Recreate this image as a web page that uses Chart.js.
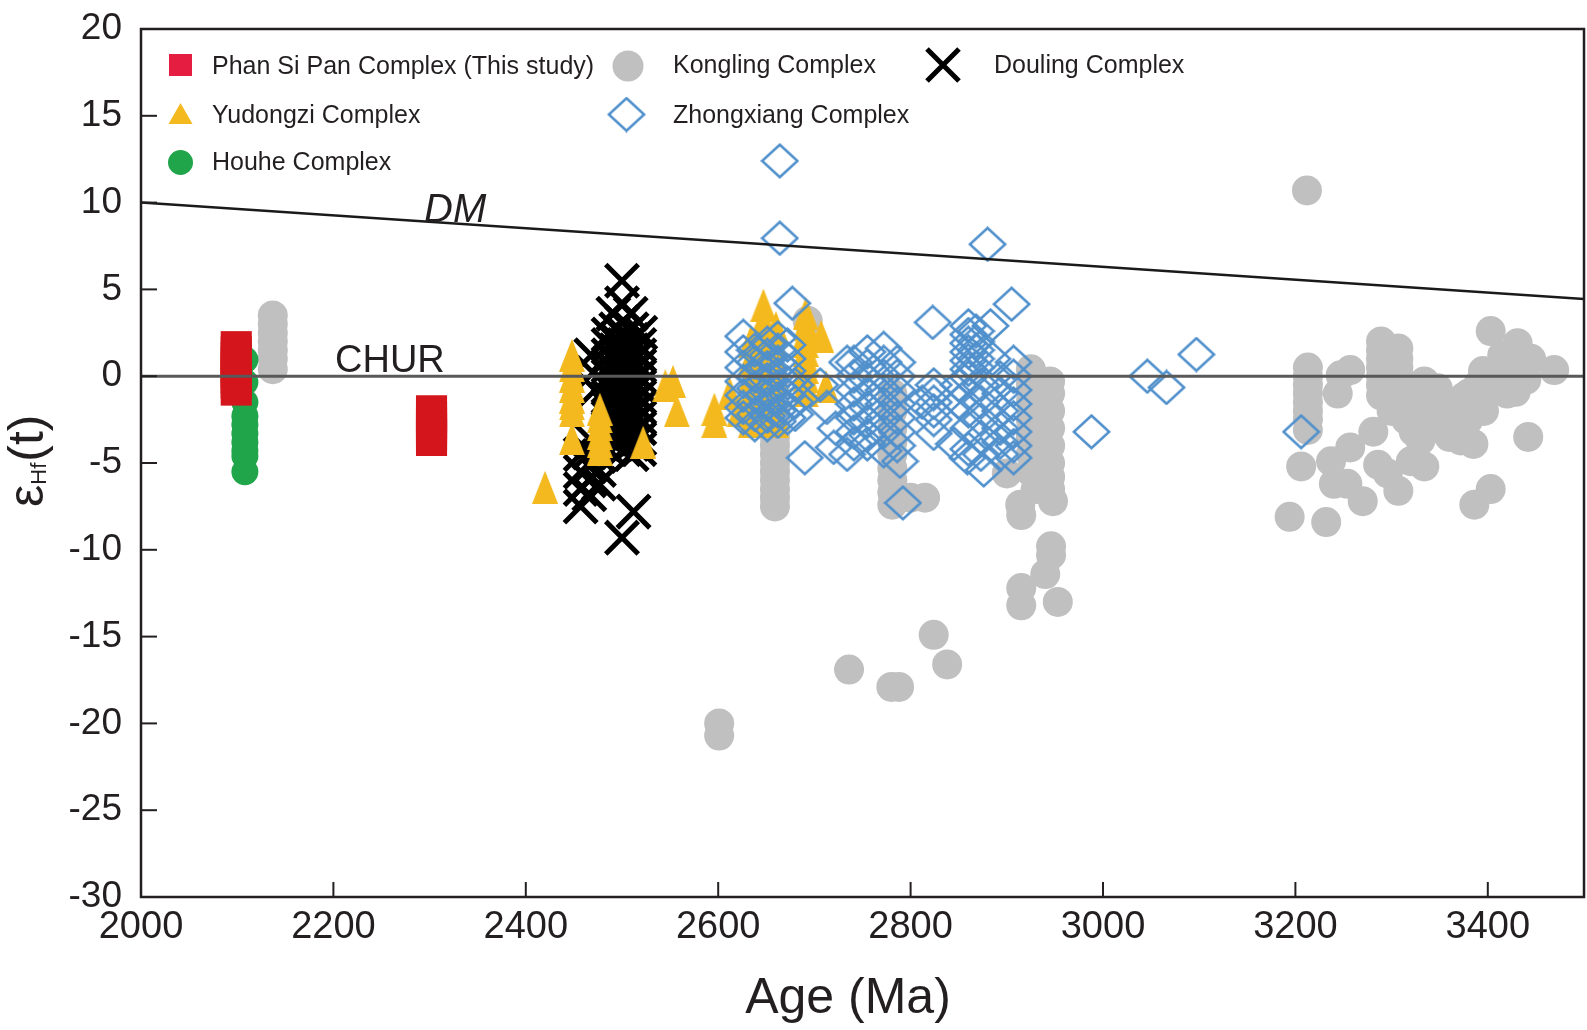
<!DOCTYPE html>
<html>
<head>
<meta charset="utf-8">
<script src="https://cdn.jsdelivr.net/npm/chart.js@4.4.1/dist/chart.umd.min.js"></script>
<style>
html,body{margin:0;padding:0;background:#fff;}
#wrap{width:1587px;height:1030px;position:relative;}
</style>
</head>
<body>
<div id="wrap"><canvas id="c" width="1587" height="1030"></canvas></div>
<script>
// ---------- data (age in Ma, εHf(t)) ----------
const xTickValues = [2000, 2200, 2400, 2600, 2800, 3000, 3200, 3400];
const yTickValues = [-30, -25, -20, -15, -10, -5, 0, 5, 10, 15, 20];

const dmLine = [[2000, 10], [3500, 4.45]];
const churLine = [[2000, 0], [3500, 0]];

const phanSiPan = [
  [2099,1.7],[2099,1.4],[2099,1.1],[2099,0.8],[2099,0.5],[2099,0.2],[2099,-0.1],[2099,-0.4],[2099,-0.8],
  [2302,-2.0],[2302,-2.35],[2302,-2.7],[2302,-3.0],[2302,-3.35],[2302,-3.7]
];

const houhe = [
  [2108,0.95],[2108,-0.35],[2108,-1.5],[2108,-2.3],[2108,-2.8],[2108,-3.3],[2108,-3.8],[2108,-4.3],[2108,-4.6],[2108,-5.5]
];

const yudongzi = [
  [2420,-6.4],
  [2448,1.2],[2448,0.6],[2448,0],[2448,-0.6],[2448,-1.2],[2448,-1.6],[2448,-2.0],[2448,-3.6],
  [2477,-1.9],[2477,-2.35],[2477,-2.8],[2477,-3.3],[2477,-3.75],[2477,-4.2],
  [2522,-3.8],[2545,-0.55],[2553,-0.3],[2557,-2.0],[2596,-1.9],[2596,-2.6],[2612,-1.0],[2622,-2.0],
  [2634,2.0],[2634,1.0],[2634,0],[2634,-1.0],[2634,-2.0],[2634,-2.6],
  [2647,4.1],[2647,3.2],[2647,2.3],[2647,1.4],[2647,0.5],[2647,-0.4],[2647,-1.3],[2647,-2.2],[2647,-2.6],
  [2660,2.8],[2660,1.8],[2660,0.8],[2660,-0.2],[2660,-1.2],[2660,-2.2],[2660,-2.6],
  [2691,3.6],[2691,3.0],[2691,2.5],[2691,2.0],[2691,1.5],[2691,1.0],[2691,0.5],[2691,0],[2691,-0.5],[2691,-0.85],
  [2707,2.3],[2712,-0.6]
];

const douling = [
  [2500,5.5],[2500,4.2],[2491,3.6],[2509,3.6],[2500,3.1],[2519,2.5],
  [2468,1.2],[2470,0.2],[2472,-0.8],
  [2486,2.4],[2486,1.8],[2486,1.2],[2486,0.6],[2486,0],[2486,-0.6],[2486,-1.2],[2486,-1.8],[2486,-2.4],[2486,-3.0],[2486,-3.6],[2486,-4.2],
  [2494,2.7],[2494,2.1],[2494,1.5],[2494,0.9],[2494,0.3],[2494,-0.3],[2494,-0.9],[2494,-1.5],[2494,-2.1],[2494,-2.7],[2494,-3.3],[2494,-3.9],
  [2502,2.4],[2502,1.8],[2502,1.2],[2502,0.6],[2502,0],[2502,-0.6],[2502,-1.2],[2502,-1.8],[2502,-2.4],[2502,-3.0],[2502,-3.6],[2502,-4.2],
  [2510,2.7],[2510,2.1],[2510,1.5],[2510,0.9],[2510,0.3],[2510,-0.3],[2510,-0.9],[2510,-1.5],[2510,-2.1],[2510,-2.7],[2510,-3.3],[2510,-3.9],[2510,-4.5],
  [2518,1.8],[2518,1.2],[2518,0.6],[2518,0],[2518,-0.6],[2518,-1.2],[2518,-1.8],[2518,-2.4],[2518,-3.0],[2518,-3.6],[2518,-4.2],
  [2457,-4.5],[2457,-5.5],[2457,-6.5],[2457,-7.5],
  [2466,-3.6],[2466,-4.4],[2466,-5.2],[2466,-6.0],[2466,-6.8],
  [2476,-4.6],[2476,-5.4],[2476,-6.2],
  [2512,-7.8],[2500,-9.3]
];

const zhongxiang = [
  [2664,12.4],[2664,7.95],[2880,7.6],[2677,4.2],[2905,4.15],[2823,3.1],[2883,2.9],
  [3046,0],[3066,-0.65],[3097,1.25],[2988,-3.2],[3206,-3.2],
  [2690,-4.7],[2720,-4.1],[2792,-7.3],[2789,-4.9],[2845,-3.9],[2859,-4.7],[2876,-5.4],[2907,-4.7],[2734,0.8],[2734,-4.5],
  [2626,2.3],[2626,1.4],[2626,0.5],[2626,-0.3],[2626,-1.1],[2626,-1.8],[2626,-2.4],
  [2638,1.5],[2638,0.8],[2638,0],[2638,-0.7],[2638,-1.5],[2638,-2.2],[2638,-2.8],
  [2651,1.9],[2651,1.2],[2651,0.5],[2651,-0.2],[2651,-0.9],[2651,-1.6],[2651,-2.3],[2651,-2.8],
  [2662,2.2],[2662,1.5],[2662,0.8],[2662,0.1],[2662,-0.6],[2662,-1.3],[2662,-2.0],[2662,-2.6],
  [2672,1.8],[2672,1.0],[2672,0.3],[2672,-0.4],[2672,-1.1],[2672,-1.8],[2672,-2.4],
  [2680,-0.5],[2680,-1.5],[2680,-2.2],
  [2706,-0.5],[2713,-1.8],[2722,-3.0],
  [2741,0.8],[2741,0],[2741,-0.8],[2741,-1.6],[2741,-2.4],[2741,-3.2],[2741,-3.9],
  [2755,1.4],[2755,0.6],[2755,-0.2],[2755,-1.0],[2755,-1.8],[2755,-2.6],[2755,-3.4],[2755,-3.9],
  [2772,1.6],[2772,0.8],[2772,0],[2772,-0.8],[2772,-1.6],[2772,-2.4],[2772,-3.2],[2772,-4.3],
  [2786,0.8],[2786,0],[2786,-0.8],[2786,-1.6],[2786,-2.4],[2786,-3.2],[2786,-4.0],
  [2812,-1.5],
  [2824,-0.5],[2824,-1.0],[2824,-1.5],[2824,-2.0],[2824,-2.5],[2824,-3.3],
  [2850,-0.5],[2850,-1.5],
  [2860,2.9],[2860,2.4],[2860,1.9],[2860,1.4],[2860,0.9],[2860,0.4],[2860,-0.1],[2860,-1.0],[2860,-2.0],[2860,-3.0],[2860,-4.2],
  [2868,2.6],[2868,2.0],[2868,1.5],[2868,1.0],[2868,0.5],
  [2873,-0.5],[2873,-1.5],[2873,-2.5],[2873,-3.5],[2873,-4.5],
  [2885,1.0],
  [2893,-0.1],[2893,-1.0],[2893,-2.0],[2893,-3.0],[2893,-3.8],[2893,-4.5],
  [2907,0.8],[2907,0],[2907,-0.8],[2907,-1.6],[2907,-2.4],[2907,-3.2],[2907,-4.0]
];

const kongling = [
  [2137,3.5],[2137,3.0],[2137,2.5],[2137,2.0],[2137,1.5],[2137,1.0],[2137,0.4],
  [2601,-20.0],[2601,-20.7],
  [2659,-0.5],[2659,-1.0],[2659,-1.5],[2659,-2.0],[2659,-2.5],[2659,-3.0],[2659,-3.5],[2659,-4.0],
  [2659,-4.5],[2659,-5.0],[2659,-5.5],[2659,-6.0],[2659,-6.5],[2659,-7.0],[2659,-7.5],
  [2693,3.2],
  [2736,-16.9],[2780,-17.9],[2788,-17.9],
  [2781,-1.0],[2781,-2.0],[2781,-3.0],[2781,-3.8],[2781,-4.5],[2781,-5.3],[2781,-6.0],[2781,-6.7],[2781,-7.4],
  [2800,-7.0],[2815,-7.0],
  [2824,-14.9],[2838,-16.6],
  [2900,-5.6],[2914,-7.4],[2915,-8.0],[2930,-6.5],[2948,-7.2],
  [2925,0.4],[2925,-0.5],[2925,-1.5],[2925,-2.5],[2925,-3.5],[2925,-4.5],[2925,-5.5],
  [2945,-0.3],[2945,-1.0],[2945,-2.0],[2945,-3.0],[2945,-4.0],[2945,-5.0],[2945,-5.8],[2945,-6.5],
  [2946,-9.8],[2946,-10.3],[2940,-11.4],[2953,-13.0],[2915,-12.2],[2915,-13.2],
  [3212,10.7],
  [3213,0.5],[3213,0],[3213,-0.5],[3213,-1.0],[3213,-1.5],[3213,-2.0],[3213,-2.5],[3213,-3.1],
  [3206,-5.2],[3194,-8.1],[3232,-8.4],
  [3244,-1.0],[3247,0.05],[3257,0.35],
  [3289,2.0],[3289,1.5],[3289,1.0],[3289,0.5],[3289,0],[3289,-0.5],[3289,-1.1],
  [3307,1.6],[3307,1.0],[3307,0.5],[3307,0],[3307,-0.5],[3307,-1.0],
  [3300,-1.5],[3300,-2.0],[3315,-1.0],[3315,-2.0],[3315,-2.5],[3325,-1.0],[3325,-1.8],
  [3334,-0.3],[3348,-0.7],[3340,-1.5],[3340,-2.3],[3350,-2.5],[3350,-3.0],
  [3360,-2.5],[3360,-3.0],[3360,-3.5],[3370,-2.0],[3370,-2.8],[3380,-1.0],[3380,-2.5],
  [3390,-0.5],[3390,-1.5],[3361,-1.6],[3375,-1.2],
  [3323,-3.2],[3330,-3.7],[3334,-5.2],[3320,-4.9],[3307,-6.6],[3296,-5.6],[3281,-3.2],
  [3257,-4.1],[3237,-4.9],[3240,-6.2],[3254,-6.2],[3270,-7.2],[3286,-5.1],
  [3372,-3.7],[3385,-3.9],[3396,-2.0],[3403,-0.5],[3416,0.25],[3403,2.6],[3431,1.9],
  [3445,1.0],[3469,0.35],[3429,-0.9],[3442,-3.5],[3403,-6.5],[3386,-7.4],
  [3415,1.2],[3430,0.5],[3440,-0.2],[3420,-1.0],[3395,0.3]
];

// ---------- styling ----------
const FONT = '"Liberation Sans", Arial, Helvetica, sans-serif';
const TXT = '#231f20';
const C_RED = '#d4161c', C_RED_LEG = '#e51e41', C_YEL = '#f4b91e', C_GRN = '#20a54a',
      C_GRAY = '#c0c0c0', C_BLUE = '#5090cc', C_BLACK = '#000000';

const toPts = arr => arr.map(([x, y]) => ({x, y}));

function makeTriangle(w, h, color) {
  const c = document.createElement('canvas');
  c.width = w; c.height = h;
  const g = c.getContext('2d');
  g.fillStyle = color;
  g.beginPath(); g.moveTo(w / 2, 0); g.lineTo(w, h); g.lineTo(0, h); g.closePath(); g.fill();
  return c;
}
function makeDiamond(w, h, color, lw) {
  const c = document.createElement('canvas');
  c.width = w; c.height = h;
  const g = c.getContext('2d');
  g.strokeStyle = color; g.lineWidth = lw; g.lineJoin = 'miter';
  const m = lw / 2 + 0.5;
  g.beginPath(); g.moveTo(w / 2, m); g.lineTo(w - m, h / 2); g.lineTo(w / 2, h - m); g.lineTo(m, h / 2); g.closePath(); g.stroke();
  return c;
}
const triImg = makeTriangle(26, 33, C_YEL);
const diaImg = makeDiamond(39, 36, C_BLUE, 2.6);

const framePlugin = {
  id: 'frameAndText',
  afterDraw(chart) {
    const ctx = chart.ctx;
    const {left, right, top, bottom} = chart.chartArea;
    const xs = chart.scales.x, ys = chart.scales.y;
    ctx.save();
    // frame
    ctx.strokeStyle = TXT; ctx.lineWidth = 2.5;
    ctx.strokeRect(left, top, right - left, bottom - top);
    // inward ticks
    ctx.lineWidth = 2;
    yTickValues.forEach(v => {
      if (v === yTickValues[0] || v === yTickValues[yTickValues.length - 1]) return;
      const y = ys.getPixelForValue(v);
      ctx.beginPath(); ctx.moveTo(left, y); ctx.lineTo(left + 16, y); ctx.stroke();
    });
    xTickValues.forEach(v => {
      if (v === xTickValues[0]) return;
      const x = xs.getPixelForValue(v);
      ctx.beginPath(); ctx.moveTo(x, bottom); ctx.lineTo(x, bottom - 15); ctx.stroke();
    });

    // line labels
    ctx.fillStyle = TXT;
    ctx.textBaseline = 'alphabetic';
    ctx.textAlign = 'left';
    ctx.font = 'italic 40px ' + FONT;
    ctx.fillText('DM', 424, 222);
    ctx.font = '38px ' + FONT;
    ctx.fillText('CHUR', 335, 372);

    // x-axis title
    ctx.textAlign = 'center';
    ctx.font = '50px ' + FONT;
    ctx.fillText('Age (Ma)', 848, 1013);

    // y-axis title εHf(t)
    ctx.save();
    ctx.translate(43, 507);
    ctx.rotate(-Math.PI / 2);
    ctx.textAlign = 'left';
    ctx.font = '50px ' + FONT;
    ctx.fillText('ε', 0, 0);
    let w = ctx.measureText('ε').width;
    ctx.font = '22px ' + FONT;
    ctx.fillText('Hf', w, 3);
    w += ctx.measureText('Hf').width + 1;
    ctx.font = '50px ' + FONT;
    ctx.fillText('(t)', w, 0);
    ctx.restore();

    // legend
    ctx.fillStyle = C_RED_LEG;
    ctx.fillRect(169, 54, 23, 22);
    ctx.fillStyle = C_YEL;
    ctx.beginPath(); ctx.moveTo(180.5, 103); ctx.lineTo(192.5, 124); ctx.lineTo(168.5, 124); ctx.closePath(); ctx.fill();
    ctx.fillStyle = C_GRN;
    ctx.beginPath(); ctx.arc(180.5, 162.5, 12.5, 0, Math.PI * 2); ctx.fill();
    ctx.fillStyle = C_GRAY;
    ctx.beginPath(); ctx.arc(628, 66, 15.5, 0, Math.PI * 2); ctx.fill();
    ctx.drawImage(diaImg, 626.5 - diaImg.width / 2, 114.5 - diaImg.height / 2);
    ctx.strokeStyle = C_BLACK; ctx.lineWidth = 5;
    ctx.beginPath();
    ctx.moveTo(927, 49); ctx.lineTo(959, 81);
    ctx.moveTo(959, 49); ctx.lineTo(927, 81);
    ctx.stroke();

    ctx.fillStyle = TXT;
    ctx.textAlign = 'left';
    ctx.font = '25px ' + FONT;
    ctx.fillText('Phan Si Pan Complex (This study)', 212, 74);
    ctx.fillText('Yudongzi Complex', 212, 123);
    ctx.fillText('Houhe Complex', 212, 170);
    ctx.fillText('Kongling Complex', 673, 73);
    ctx.fillText('Zhongxiang Complex', 673, 123);
    ctx.fillText('Douling Complex', 994, 73);
    ctx.restore();
  }
};

new Chart(document.getElementById('c').getContext('2d'), {
  type: 'scatter',
  data: {
    datasets: [
      {label: 'CHUR', data: toPts(churLine), showLine: true, borderColor: '#595959', borderWidth: 3,
       pointRadius: 0, fill: false, order: 0},
      {label: 'DM', data: toPts(dmLine), showLine: true, borderColor: '#1a1a1a', borderWidth: 2.5,
       pointRadius: 0, fill: false, order: 1},
      {label: 'Phan Si Pan Complex (This study)', data: toPts(phanSiPan), pointStyle: 'rect', pointRadius: 22,
       pointBackgroundColor: C_RED, pointBorderWidth: 0, order: 2},
      {label: 'Houhe Complex', data: toPts(houhe), pointStyle: 'circle', pointRadius: 13.5,
       pointBackgroundColor: C_GRN, pointBorderWidth: 0, order: 3},
      {label: 'Zhongxiang Complex', data: toPts(zhongxiang), pointStyle: diaImg, pointRadius: 18,
       pointBorderWidth: 0, order: 4},
      {label: 'Yudongzi Complex', data: toPts(yudongzi), pointStyle: triImg, pointRadius: 16,
       pointBorderWidth: 0, order: 5},
      {label: 'Douling Complex', data: toPts(douling), pointStyle: 'crossRot', pointRadius: 23,
       pointBorderColor: C_BLACK, pointBorderWidth: 5, order: 6},
      {label: 'Kongling Complex', data: toPts(kongling), pointStyle: 'circle', pointRadius: 15,
       pointBackgroundColor: C_GRAY, pointBorderWidth: 0, order: 7}
    ]
  },
  options: {
    responsive: false,
    animation: false,
    events: [],
    layout: {autoPadding: false, padding: {top: 29, right: 3, left: 0, bottom: 0}},
    plugins: {legend: {display: false}, tooltip: {enabled: false}},
    scales: {
      x: {
        type: 'linear', min: 2000, max: 3500,
        afterBuildTicks: s => { s.ticks = xTickValues.map(v => ({value: v})); },
        afterFit: s => { s.height = 133; s.paddingLeft = 0; s.paddingRight = 0; s.paddingTop = 0; s.paddingBottom = 0; },
        grid: {display: false}, border: {display: false},
        ticks: {font: {family: FONT, size: 38}, color: TXT, padding: 0, maxRotation: 0, autoSkip: false,
                callback: v => String(v)}
      },
      y: {
        type: 'linear', min: -30, max: 20,
        afterBuildTicks: s => { s.ticks = yTickValues.map(v => ({value: v})); },
        afterFit: s => { s.width = 141; s.paddingLeft = 0; s.paddingRight = 0; s.paddingTop = 0; s.paddingBottom = 0; },
        grid: {display: false, drawTicks: false, tickLength: 0}, border: {display: false},
        ticks: {font: {family: FONT, size: 37}, color: TXT, padding: 19, autoSkip: false,
                callback: v => String(v)}
      }
    }
  },
  plugins: [framePlugin]
});
</script>
</body>
</html>
